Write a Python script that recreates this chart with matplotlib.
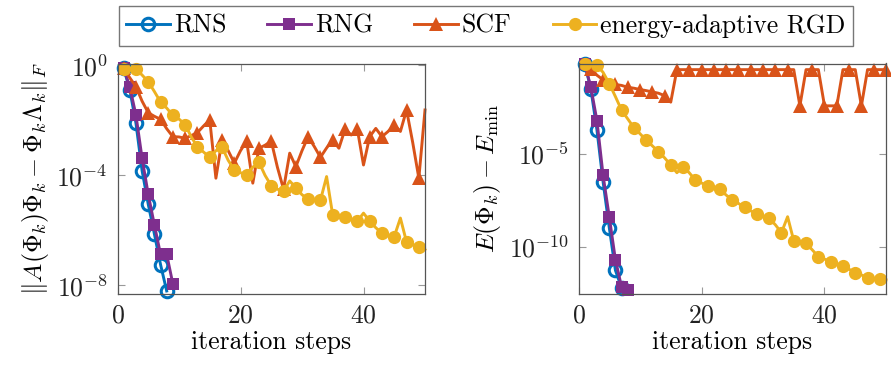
import numpy as np
import matplotlib
matplotlib.use("Agg")
import matplotlib.pyplot as plt
from matplotlib.lines import Line2D
from matplotlib.ticker import FixedLocator, NullLocator

plt.rcParams.update({
    "font.family": "serif",
    "font.serif": ["cmr10"],
    "mathtext.fontset": "cm",
    "axes.formatter.use_mathtext": True,
    "font.size": 18.5,
})

# ---------------------------------------------------------------------------
# Data (log10 of the plotted quantity)
# ---------------------------------------------------------------------------

# left panel: residual ||A(Phi)Phi - Phi Lambda||_F
rns_res = [-0.10, -0.89, -2.10, -3.83, -5.05, -6.13, -7.24, -8.20]
rng_res = [-0.10, -0.78, -1.81, -3.38, -4.69, -5.80, -6.87, -6.87, -7.94]
scf_res = [-0.10, -0.45, -0.77, -1.30, -1.72, -1.85, -1.96, -2.30, -2.59, -2.60,
           -2.65, -2.55, -2.44, -2.20, -1.98, -4.10, -2.71, -3.10, -3.55, -3.10,
           -2.75, -4.28, -3.01, -2.90, -2.75, -3.70, -4.50, -3.19, -3.68, -3.10,
           -2.59, -2.95, -3.34, -3.00, -2.71, -3.01, -2.32, -2.53, -2.32, -3.62,
           -2.59, -2.29, -2.59, -2.40, -2.16, -2.40, -1.62, -2.80, -4.10, -1.62]
rgd_res = [-0.12, -0.10, -0.13, -0.35, -0.59, -0.95, -1.33, -1.55, -1.82, -1.95,
           -2.15, -2.60, -2.96, -3.15, -3.34, -3.10, -2.97, -3.45, -3.80, -3.90,
           -3.97, -3.70, -3.52, -4.00, -4.37, -4.50, -4.57, -4.20, -4.45, -4.70,
           -4.87, -4.90, -4.90, -4.04, -5.45, -5.50, -5.51, -5.60, -5.66, -5.37,
           -5.66, -5.90, -6.10, -6.20, -6.22, -5.55, -6.42, -6.52, -6.59, -6.70]

# right panel: energy error E(Phi) - E_min
rns_err = [-0.13, -1.47, -3.70, -6.50, -8.95, -11.25, -12.20]
rng_err = [-0.13, -1.38, -3.20, -6.15, -8.37, -10.68, -12.15, -12.30]
scf_err = [-0.13, -0.40, -0.75, -1.00, -1.12, -1.25, -1.30, -1.40, -1.45, -1.52,
           -1.58, -1.65, -1.72, -1.85, -2.20, -0.45, -0.45, -0.45, -0.45, -0.45,
           -0.45, -0.45, -0.45, -0.45, -0.45, -0.45, -0.45, -0.45, -0.45, -0.45,
           -0.45, -0.45, -0.45, -0.45, -0.45, -2.40, -0.45, -0.45, -0.45, -2.40,
           -2.40, -2.40, -0.45, -0.45, -0.45, -2.40, -0.45, -0.45, -0.45, -0.45]
rgd_err = [-0.15, -0.18, -0.21, -0.60, -1.20, -1.90, -2.63, -3.10, -3.57, -3.90,
           -4.25, -4.55, -4.87, -5.20, -5.59, -6.00, -5.68, -6.00, -6.40, -6.55,
           -6.72, -6.80, -6.90, -7.20, -7.47, -7.65, -7.87, -8.05, -8.23, -8.35,
           -8.46, -8.80, -9.23, -8.37, -9.66, -9.70, -9.80, -10.15, -10.52, -10.65,
           -10.79, -10.90, -11.02, -11.20, -11.38, -11.50, -11.68, -11.70, -11.74, -11.77]

labels = ["RNS", "RNG", "SCF", "energy-adaptive RGD"]
colors = ["#0072BD", "#7E2F8E", "#D95319", "#EDB120"]

# ---------------------------------------------------------------------------
# Styling per method
# ---------------------------------------------------------------------------
styles = [
    dict(color=colors[0], marker="o", ms=9.0, mfc="none", mew=2.2),
    dict(color=colors[1], marker="s", ms=8.0, mfc=colors[1], mew=0),
    dict(color=colors[2], marker="^", ms=10.0, mfc=colors[2], mew=0),
    dict(color=colors[3], marker="o", ms=9.5, mfc=colors[3], mew=0),
]
# marks on every point for RNS/RNG, every second point for SCF/RGD
marks_left = [1, 1, (0, 2), (0, 2)]
marks_right = [1, 1, (1, 2), (0, 2)]

W, H = 891, 365
fig = plt.figure(figsize=(W / 100, H / 100), dpi=100)


def px_axes(x0, y0, x1, y1):
    return fig.add_axes([x0 / W, 1 - y1 / H, (x1 - x0) / W, (y1 - y0) / H])


ax1 = px_axes(117.5, 63.5, 425, 294)
ax2 = px_axes(578.5, 63.5, 886, 294)


def draw(ax, series, marks):
    for vals, st, me in zip(series, styles, marks):
        it = np.arange(1, len(vals) + 1)
        ax.semilogy(it, 10.0 ** np.array(vals), lw=2.1, clip_on=False,
                    markevery=me, **st)


draw(ax1, [rns_res, rng_res, scf_res, rgd_res], marks_left)
draw(ax2, [rns_err, rng_err, scf_err, rgd_err], marks_right)

ax1.set_ylim(10 ** -8.31, 10 ** 0.07)
ax1.yaxis.set_major_locator(FixedLocator([1e0, 1e-4, 1e-8]))
ax2.set_ylim(10 ** -12.53, 10 ** -0.12)
ax2.yaxis.set_major_locator(FixedLocator([1e-5, 1e-10]))

for ax in (ax1, ax2):
    ax.set_xlim(0, 50)
    ax.xaxis.set_major_locator(FixedLocator([0, 20, 40]))
    ax.yaxis.set_minor_locator(NullLocator())
    ax.tick_params(which="both", direction="in", top=True, right=True,
                   length=5, width=0.8, color="#999999", labelcolor="#222222",
                   pad=7)
    for sp in ax.spines.values():
        sp.set_color("#555555")
        sp.set_linewidth(0.9)
    ax.set_xlabel("iteration steps", labelpad=2)

ax1.set_ylabel(r"$\|A(\Phi_k)\Phi_k - \Phi_k\Lambda_k\|_F$", labelpad=4)
ax2.set_ylabel(r"$E(\Phi_k) - E_{\min}$", labelpad=4)

handles = [Line2D([], [], lw=2.1, **st) for st in styles]
fig.legend(handles, labels, ncol=4, loc="center",
           bbox_to_anchor=(486 / W, 1 - 26 / H),
           frameon=True, fancybox=False, edgecolor="#555555",
           handlelength=1.7, handletextpad=0.15, columnspacing=1.6,
           borderpad=0.3, borderaxespad=0)

fig.savefig("out.png", dpi=100)
